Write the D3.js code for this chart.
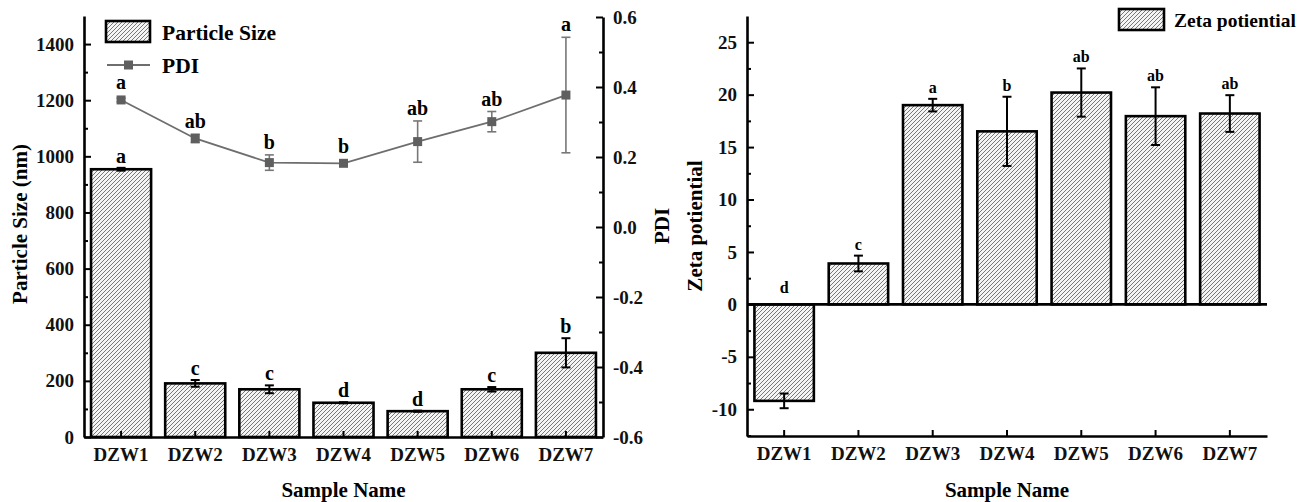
<!DOCTYPE html>
<html>
<head>
<meta charset="utf-8">
<script src="https://cdn.jsdelivr.net/npm/d3@7"></script>
<style>
  body { margin: 0; background: #fff; }
  svg { font-family: "Liberation Serif", "Times New Roman", serif; font-weight: bold; }
</style>
</head>
<body>
<svg id="chart" width="1300" height="502"></svg>
<script>
// data
const samples = ["DZW1", "DZW2", "DZW3", "DZW4", "DZW5", "DZW6", "DZW7"];
const sizeMean = [954, 191, 170, 122, 92, 170, 300];
const sizeErr = [5, 12, 14, 2, 2, 8, 52];
const sizeLetters = ["a", "c", "c", "d", "d", "c", "b"];
const pdiMean = [0.363, 0.253, 0.184, 0.182, 0.244, 0.301, 0.377];
const pdiErr = [0.005, 0.012, 0.022, 0.004, 0.059, 0.029, 0.165];
const pdiLetters = ["a", "ab", "b", "b", "ab", "ab", "a"];
const zetaMean = [-9.2, 3.9, 19.0, 16.5, 20.2, 17.95, 18.2];
const zetaErr = [0.7, 0.75, 0.6, 3.3, 2.3, 2.75, 1.75];
const zetaLetters = ["d", "c", "a", "b", "ab", "ab", "ab"];

const sizeTicks = [0, 200, 400, 600, 800, 1000, 1200, 1400];
const pdiTicks = [-0.6, -0.4, -0.2, 0.0, 0.2, 0.4, 0.6];
const zetaTicks = [-10, -5, 0, 5, 10, 15, 20, 25];

const FONT = '"Liberation Serif", "Times New Roman", serif';
const svg = d3.select("#chart");

// hatch fill
const defs = svg.append("defs");
const pat = defs.append("pattern")
    .attr("id", "hatch")
    .attr("patternUnits", "userSpaceOnUse")
    .attr("width", 4).attr("height", 4);
pat.append("rect").attr("width", 4).attr("height", 4).attr("fill", "#f4f4f4");
pat.append("path")
    .attr("d", "M-1,1 l2,-2 M0,4 l4,-4 M3,5 l2,-2")
    .attr("stroke", "#6a6a6a").attr("stroke-width", 0.9);

//Helper for axis styling
function styleAxis(g, size) {
    g.select(".domain").attr("stroke", "#000").attr("stroke-width", 2.6);
    g.selectAll(".tick line").attr("stroke", "#000").attr("stroke-width", 2);
    g.selectAll(".tick text").attr("fill", "#111")
        .style("font-family", FONT).style("font-weight", "bold")
        .style("font-size", (size || 19) + "px");
}
function minorTicks(g) {
    g.select(".domain").remove();
    g.selectAll(".tick line").attr("stroke", "#000").attr("stroke-width", 2);
}

/* ---------- Left chart: particle size + PDI ---------- */
var L = {left: 84, right: 603, top: 16, bottom: 437};

var xL = d3.scaleBand().domain(samples).range([L.left, L.right])
    .paddingInner(0.19).paddingOuter(0.095);
var ySize = d3.scaleLinear().domain([0, 1500]).range([L.bottom, L.top]);
var yPdi = d3.scaleLinear().domain([-0.6, 0.6]).range([L.bottom, L.top + 1]);
var cx = d => xL(d) + xL.bandwidth() / 2;

var gL = svg.append("g");

// bars
gL.selectAll(".bar").data(samples).enter()
    .append("rect")
    .attr("class", "bar")
    .attr("x", d => xL(d))
    .attr("width", xL.bandwidth())
    .attr("y", (d, i) => ySize(sizeMean[i]))
    .attr("height", (d, i) => ySize(0) - ySize(sizeMean[i]))
    .attr("fill", "url(#hatch)")
    .attr("stroke", "#000").attr("stroke-width", 2.6);

// size error bars
var sizeErrG = gL.selectAll(".serr").data(samples).enter().append("g");
sizeErrG.append("line")
    .attr("x1", cx).attr("x2", cx)
    .attr("y1", (d, i) => ySize(sizeMean[i] - sizeErr[i]))
    .attr("y2", (d, i) => ySize(sizeMean[i] + sizeErr[i]));
sizeErrG.append("line")
    .attr("x1", d => cx(d) - 4.5).attr("x2", d => cx(d) + 4.5)
    .attr("y1", (d, i) => ySize(sizeMean[i] + sizeErr[i]))
    .attr("y2", (d, i) => ySize(sizeMean[i] + sizeErr[i]));
sizeErrG.append("line")
    .attr("x1", d => cx(d) - 4.5).attr("x2", d => cx(d) + 4.5)
    .attr("y1", (d, i) => ySize(sizeMean[i] - sizeErr[i]))
    .attr("y2", (d, i) => ySize(sizeMean[i] - sizeErr[i]));
sizeErrG.selectAll("line").attr("stroke", "#000").attr("stroke-width", 2);

gL.selectAll(".slab").data(samples).enter()
    .append("text")
    .attr("x", cx)
    .attr("y", (d, i) => ySize(sizeMean[i] + sizeErr[i]) - 5)
    .attr("text-anchor", "middle")
    .style("font-size", "20px")
    .text((d, i) => sizeLetters[i]);

// PDI line
gL.append("path")
    .datum(samples)
    .attr("d", d3.line().x(d => cx(d)).y((d, i) => yPdi(pdiMean[i])))
    .attr("fill", "none").attr("stroke", "#6e6e6e").attr("stroke-width", 1.8);

var pdiErrG = gL.selectAll(".perr").data(samples).enter().append("g");
pdiErrG.append("line")
    .attr("x1", cx).attr("x2", cx)
    .attr("y1", (d, i) => yPdi(pdiMean[i] - pdiErr[i]))
    .attr("y2", (d, i) => yPdi(pdiMean[i] + pdiErr[i]));
pdiErrG.append("line")
    .attr("x1", d => cx(d) - 4.5).attr("x2", d => cx(d) + 4.5)
    .attr("y1", (d, i) => yPdi(pdiMean[i] + pdiErr[i]))
    .attr("y2", (d, i) => yPdi(pdiMean[i] + pdiErr[i]));
pdiErrG.append("line")
    .attr("x1", d => cx(d) - 4.5).attr("x2", d => cx(d) + 4.5)
    .attr("y1", (d, i) => yPdi(pdiMean[i] - pdiErr[i]))
    .attr("y2", (d, i) => yPdi(pdiMean[i] - pdiErr[i]));
pdiErrG.selectAll("line").attr("stroke", "#777").attr("stroke-width", 1.6);

gL.selectAll(".pmark").data(samples).enter()
    .append("rect")
    .attr("x", d => cx(d) - 4.5)
    .attr("y", (d, i) => yPdi(pdiMean[i]) - 4.5)
    .attr("width", 9).attr("height", 9)
    .attr("fill", "#5f5f5f");

gL.selectAll(".plab").data(samples).enter()
    .append("text")
    .attr("x", cx)
    .attr("y", (d, i) => Math.min(yPdi(pdiMean[i] + pdiErr[i]), yPdi(pdiMean[i]) - 4.5) - 6)
    .attr("text-anchor", "middle")
    .style("font-size", "20px")
    .text((d, i) => pdiLetters[i]);

// axes
var axL = gL.append("g").attr("transform", "translate(" + L.left + ",0)")
    .call(d3.axisLeft(ySize).tickValues(sizeTicks).tickFormat(d3.format("d"))
        .tickSizeInner(-7).tickSizeOuter(0).tickPadding(10));
gL.append("g").attr("transform", "translate(" + L.left + ",0)")
    .call(d3.axisLeft(ySize).tickValues(d3.range(100, 1500, 200)).tickFormat("")
        .tickSizeInner(-4).tickSizeOuter(0))
    .call(minorTicks);
styleAxis(axL);

var axR = gL.append("g").attr("transform", "translate(" + L.right + ",0)")
    .call(d3.axisRight(yPdi).tickValues(pdiTicks).tickFormat(d => d3.format(".1f")(d).replace("−", "-"))
        .tickSizeInner(-7).tickSizeOuter(0).tickPadding(10));
gL.append("g").attr("transform", "translate(" + L.right + ",0)")
    .call(d3.axisRight(yPdi).tickValues([-0.5, -0.3, -0.1, 0.1, 0.3, 0.5]).tickFormat("")
        .tickSizeInner(-4).tickSizeOuter(0))
    .call(minorTicks);
styleAxis(axR);

var axB = gL.append("g").attr("transform", "translate(0," + L.bottom + ")")
    .call(d3.axisBottom(xL).tickSizeInner(-6).tickSizeOuter(0).tickPadding(11));
styleAxis(axB);

// titles
gL.append("text")
    .attr("transform", "translate(27," + 224 + ") rotate(-90)")
    .attr("text-anchor", "middle").style("font-size", "21px")
    .text("Particle Size (nm)");
gL.append("text")
    .attr("transform", "translate(669," + 226 + ") rotate(-90)")
    .attr("text-anchor", "middle").style("font-size", "21px")
    .text("PDI");
gL.append("text")
    .attr("x", (L.left + L.right) / 2).attr("y", 497)
    .attr("text-anchor", "middle").style("font-size", "21px")
    .text("Sample Name");

// legend
gL.append("rect").attr("x", 106).attr("y", 21).attr("width", 44).attr("height", 21)
    .attr("fill", "url(#hatch)").attr("stroke", "#000").attr("stroke-width", 2.6);
gL.append("text").attr("x", 162).attr("y", 40).style("font-size", "21.5px").text("Particle Size");
gL.append("line").attr("x1", 107).attr("x2", 150).attr("y1", 65).attr("y2", 65)
    .attr("stroke", "#6e6e6e").attr("stroke-width", 1.8);
gL.append("rect").attr("x", 124).attr("y", 60.5).attr("width", 9).attr("height", 9).attr("fill", "#5f5f5f");
gL.append("text").attr("x", 162).attr("y", 73).style("font-size", "21.5px").text("PDI");

/* ---------- Right chart: zeta potential ---------- */
var R = {left: 747, right: 1267, top: 16, bottom: 436};

var xR = d3.scaleBand().domain(samples).range([R.left, R.right])
    .paddingInner(0.2).paddingOuter(0.1);
var yZeta = d3.scaleLinear().domain([-12.55, 27.5]).range([R.bottom, R.top]);
var gR = svg.append("g");
var cxR = d => xR(d) + xR.bandwidth() / 2;

gR.selectAll(".zbar").data(samples).enter()
    .append("rect")
    .attr("x", d => xR(d))
    .attr("width", xR.bandwidth())
    .attr("y", (d, i) => yZeta(Math.max(0, zetaMean[i])))
    .attr("height", (d, i) => Math.abs(yZeta(zetaMean[i]) - yZeta(0)))
    .attr("fill", "url(#hatch)")
    .attr("stroke", "#000").attr("stroke-width", 2.6);

// zero line
gR.append("line")
    .attr("x1", R.left).attr("x2", R.right)
    .attr("y1", yZeta(0)).attr("y2", yZeta(0))
    .attr("stroke", "#000").attr("stroke-width", 2.6);

var zErrG = gR.selectAll(".zerr").data(samples).enter().append("g");
zErrG.append("line")
    .attr("x1", cxR).attr("x2", cxR)
    .attr("y1", (d, i) => yZeta(zetaMean[i] - zetaErr[i]))
    .attr("y2", (d, i) => yZeta(zetaMean[i] + zetaErr[i]));
zErrG.append("line")
    .attr("x1", d => cxR(d) - 4.5).attr("x2", d => cxR(d) + 4.5)
    .attr("y1", (d, i) => yZeta(zetaMean[i] + zetaErr[i]))
    .attr("y2", (d, i) => yZeta(zetaMean[i] + zetaErr[i]));
zErrG.append("line")
    .attr("x1", d => cxR(d) - 4.5).attr("x2", d => cxR(d) + 4.5)
    .attr("y1", (d, i) => yZeta(zetaMean[i] - zetaErr[i]))
    .attr("y2", (d, i) => yZeta(zetaMean[i] - zetaErr[i]));
zErrG.selectAll("line").attr("stroke", "#000").attr("stroke-width", 2);

gR.selectAll(".zlab").data(samples).enter()
    .append("text")
    .attr("x", cxR)
    .attr("y", (d, i) => zetaMean[i] < 0 ? yZeta(0) - 11 : yZeta(zetaMean[i] + zetaErr[i]) - 6)
    .attr("text-anchor", "middle")
    .style("font-size", "16px")
    .text((d, i) => zetaLetters[i]);

var azL = gR.append("g").attr("transform", "translate(" + R.left + ",0)")
    .call(d3.axisLeft(yZeta).tickValues(zetaTicks).tickFormat(d => String(d))
        .tickSizeInner(-7).tickSizeOuter(0).tickPadding(10));
gR.append("g").attr("transform", "translate(" + R.left + ",0)")
    .call(d3.axisLeft(yZeta).tickValues([-12.5, -7.5, -2.5, 2.5, 7.5, 12.5, 17.5, 22.5]).tickFormat("")
        .tickSizeInner(-4).tickSizeOuter(0))
    .call(minorTicks);
styleAxis(azL);

var azB = gR.append("g").attr("transform", "translate(0," + R.bottom + ")")
    .call(d3.axisBottom(xR).tickSizeInner(-6).tickSizeOuter(0).tickPadding(11));
styleAxis(azB);

gR.append("text")
    .attr("transform", "translate(702," + 226 + ") rotate(-90)")
    .attr("text-anchor", "middle").style("font-size", "21px")
    .text("Zeta potiential");
gR.append("text")
    .attr("x", (R.left + R.right) / 2).attr("y", 497)
    .attr("text-anchor", "middle").style("font-size", "21px")
    .text("Sample Name");

gR.append("rect").attr("x", 1119).attr("y", 9).attr("width", 45).attr("height", 21)
    .attr("fill", "url(#hatch)").attr("stroke", "#000").attr("stroke-width", 2.6);
gR.append("text").attr("x", 1174).attr("y", 27).style("font-size", "19.5px").text("Zeta potiential");
</script>
</body>
</html>
